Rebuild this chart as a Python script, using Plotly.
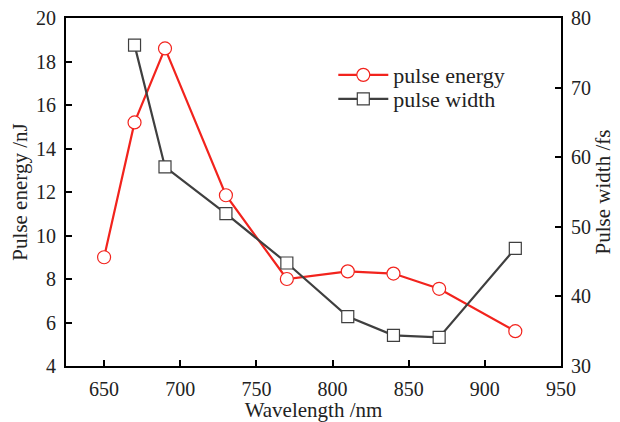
import plotly.graph_objects as go

wavelength_energy = [650, 670, 690, 730, 770, 810, 840, 870, 920]
pulse_energy = [9.0, 15.2, 18.6, 11.85, 8.0, 8.35, 8.25, 7.55, 5.6]
wavelength_width = [670, 690, 730, 770, 810, 840, 870, 920]
pulse_width = [76.1, 58.6, 51.9, 44.8, 37.1, 34.4, 34.1, 46.9]

font = "Liberation Serif"
red = "#f2231d"
gray = "#3f3f3f"
txt = "#222222"

fig = go.Figure()
fig.add_trace(go.Scatter(
    x=wavelength_energy, y=pulse_energy, name="pulse energy",
    mode="lines+markers",
    line=dict(color=red, width=2.2),
    marker=dict(symbol="circle", size=13, color="white", line=dict(color=red, width=1.2)),
    yaxis="y", legend="legend"))
fig.add_trace(go.Scatter(
    x=wavelength_width, y=pulse_width, name="pulse width",
    mode="lines+markers",
    line=dict(color=gray, width=2.2),
    marker=dict(symbol="square", size=12, color="white", line=dict(color=gray, width=1.2)),
    yaxis="y2", legend="legend2"))

axis_common = dict(showgrid=False, zeroline=False, showline=True, linecolor="black",
                   linewidth=2, ticks="inside", ticklen=6, tickwidth=1.5, tickcolor="black",
                   automargin=False, ticklabelstandoff=4, ticklabeloverflow="allow",
                   tickfont=dict(family=font, size=20, color=txt))

legend_common = dict(x=0.54, xanchor="left", yanchor="middle", bgcolor="rgba(0,0,0,0)",
                     font=dict(family=font, size=22, color=txt), itemwidth=50)

# page body has an 8px margin, so the figure is sized 8px smaller
fig.update_layout(
    width=612, height=414,
    margin=dict(l=58, r=59, t=10, b=56),
    plot_bgcolor="white", paper_bgcolor="white",
    font=dict(family=font, color=txt),
    xaxis=dict(range=[625, 950], tickvals=[650, 700, 750, 800, 850, 900, 950],
               mirror=True,
               title=dict(text="Wavelength /nm", font=dict(family=font, size=21, color=txt), standoff=12),
               **axis_common),
    yaxis=dict(range=[4, 20], tickvals=[4, 6, 8, 10, 12, 14, 16, 18, 20],
               title=dict(text="Pulse energy /nJ", font=dict(family=font, size=21, color=txt), standoff=4),
               **axis_common),
    yaxis2=dict(range=[30, 80], tickvals=[30, 40, 50, 60, 70, 80], overlaying="y", side="right",
                title=dict(text="Pulse width /fs", font=dict(family=font, size=21, color=txt), standoff=4),
                **axis_common),
    legend=dict(y=0.836, **legend_common),
    legend2=dict(y=0.767, **legend_common),
    showlegend=True,
)

fig.write_html("out.html")
